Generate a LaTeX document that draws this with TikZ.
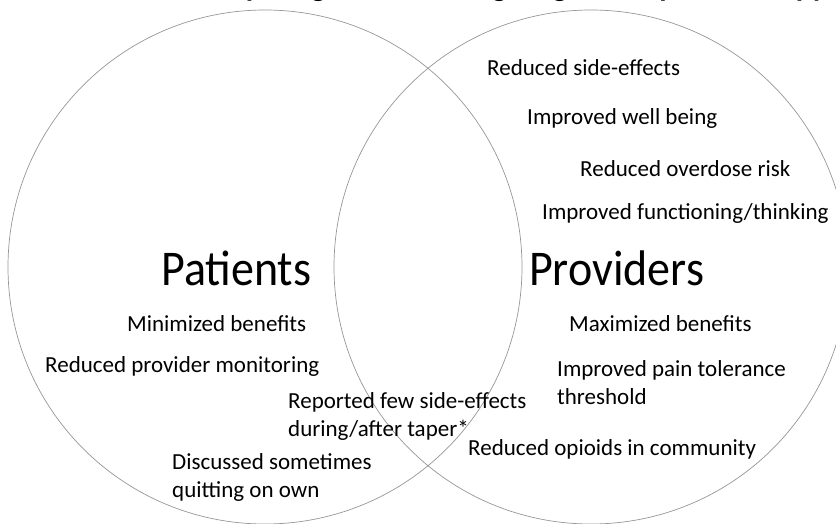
\documentclass[tikz,border=0pt]{standalone}
\usepackage{fontspec}
\setmainfont{Carlito}
\newfontfamily\groupfont[FakeStretch=0.92]{Carlito}
\usepackage{xcolor}
\usepackage{tikz}
\usetikzlibrary{positioning}

\definecolor{ringgray}{RGB}{150,150,150}

\begin{document}
\begin{tikzpicture}[
    x=1pt, y=-1pt,
    ring/.style={circle, draw=ringgray, line width=0.7pt, minimum size=514pt, inner sep=0pt},
    item/.style={anchor=west, inner sep=0pt, align=left, font=\fontsize{23}{28}\selectfont},
    group/.style={anchor=base west, inner sep=0pt, font=\groupfont\fontsize{50}{54}\selectfont},
    heading/.style={anchor=base east, inner sep=0pt, font=\bfseries\fontsize{30}{34}\selectfont},
]
\useasboundingbox (0,0) rectangle (836,523);

% Title (runs off the top edge)
\node[heading] (title) at (826,-4) {Benefits of tapering/discontinuing long-term opioid therapy};

% The two sets
\node[ring] (patientsSet) at (265,267) {};
\node[ring] (providersSet) at (591,267) {};

% Set labels
\node[group] (patients) at (161,285) {Patients};
\node[group] (providers) at (529,285) {Providers};

% Patients only
\node[item] (minBen) at (127,324) {Minimized benefits};
\node[item] (lessMon) at (45,366) {Reduced provider monitoring};
\node[item] (quitOwn) at (172,477) {Discussed sometimes\\quitting on own};

% Shared
\node[item] (fewSide) at (288,416) {Reported few side-effects\\during/after taper*};

% Providers only
\node[item] (sideFx) at (487,68) {Reduced side-effects};
\node[item] (wellBeing) at (527,118) {Improved well being};
\node[item] (overdose) at (580,169) {Reduced overdose risk};
\node[item] (thinking) at (542,213) {Improved functioning/thinking};
\node[item] (maxBen) at (569,324) {Maximized benefits};
\node[item] (painTol) at (557,383) {Improved pain tolerance\\threshold};
\node[item] (community) at (468,449) {Reduced opioids in community};
\end{tikzpicture}
\end{document}
